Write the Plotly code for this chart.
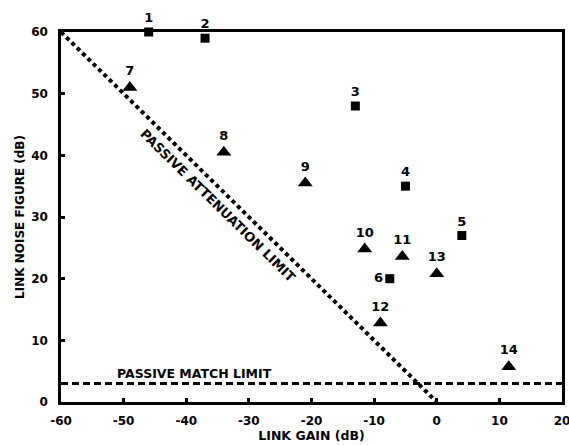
import plotly.graph_objects as go

# Data
sq_labels = ["1", "2", "3", "4", "5", "6"]
sq_gain = [-46, -37, -13, -5, 4, -7.5]
sq_nf = [60, 59, 48, 35, 27, 20]

tri_labels = ["7", "8", "9", "10", "11", "12", "13", "14"]
tri_gain = [-49, -34, -21, -11.5, -5.5, -9, 0, 11.5]
tri_nf = [51, 40.5, 35.5, 24.8, 23.6, 12.8, 20.8, 5.7]

atten_gain = [-60, 0]
atten_nf = [60, 0]
match_gain = [-60, 20]
match_nf = [3, 3]

x_ticks = [-60, -50, -40, -30, -20, -10, 0, 10, 20]
y_ticks = [0, 10, 20, 30, 40, 50, 60]

FONT = "DejaVu Sans, Arial, sans-serif"

fig = go.Figure()

fig.add_trace(go.Scatter(x=atten_gain, y=atten_nf, mode="lines",
                         line=dict(color="black", width=4, dash="4px,3.5px"),
                         hoverinfo="skip", showlegend=False))
fig.add_trace(go.Scatter(x=match_gain, y=match_nf, mode="lines",
                         line=dict(color="black", width=3, dash="7px,4px"),
                         hoverinfo="skip", showlegend=False))

sq_pos = ["top center"] * 5 + ["middle left"]
fig.add_trace(go.Scatter(x=sq_gain, y=sq_nf, mode="markers+text",
                         text=sq_labels, textposition=sq_pos,
                         textfont=dict(family=FONT, size=13, color="black", weight="bold"),
                         marker=dict(symbol="square", size=9, color="black"),
                         cliponaxis=False, showlegend=False))
tri_pos = ["top center"] * 8
fig.add_trace(go.Scatter(x=tri_gain, y=tri_nf, mode="markers+text",
                         text=tri_labels, textposition=tri_pos,
                         textfont=dict(family=FONT, size=13, color="black", weight="bold"),
                         marker=dict(symbol="triangle-up", size=13, color="black"),
                         cliponaxis=False, showlegend=False))

fig.add_annotation(x=-35.0, y=31.8, text="<b>PASSIVE ATTENUATION LIMIT</b>",
                   textangle=44.5, showarrow=False,
                   font=dict(family=FONT, size=13, color="black"))
fig.add_annotation(x=-38.7, y=4.6, text="<b>PASSIVE MATCH LIMIT</b>",
                   showarrow=False,
                   font=dict(family=FONT, size=12.5, color="black"))

axis_common = dict(showgrid=False, zeroline=False, showline=True, linecolor="black",
                   linewidth=2.5, mirror=True, ticks="inside", ticklen=4, tickwidth=2.5,
                   tickcolor="black", automargin=False, ticklabeloverflow="allow",
                   tickfont=dict(family=FONT, size=12, color="black", weight="bold"))

fig.update_xaxes(range=[-60, 20], tickvals=x_ticks, ticktext=[str(v) for v in x_ticks],
                 ticklabelstandoff=6,
                 title=dict(text="<b>LINK GAIN (dB)</b>", standoff=2,
                            font=dict(family=FONT, size=12.5, color="black")),
                 **axis_common)
fig.update_yaxes(range=[0, 60], tickvals=y_ticks, ticktext=[str(v) for v in y_ticks],
                 ticklabelstandoff=8,
                 title=dict(text="<b>LINK NOISE FIGURE (dB)</b>", standoff=4,
                            font=dict(family=FONT, size=12, color="black")),
                 **axis_common)

fig.update_layout(width=569, height=445, margin=dict(l=61, r=7, t=32, b=43),
                  plot_bgcolor="white", paper_bgcolor="white")

fig.write_html("out.html", config={"displayModeBar": False},
               post_script="document.body.style.margin='0';")
